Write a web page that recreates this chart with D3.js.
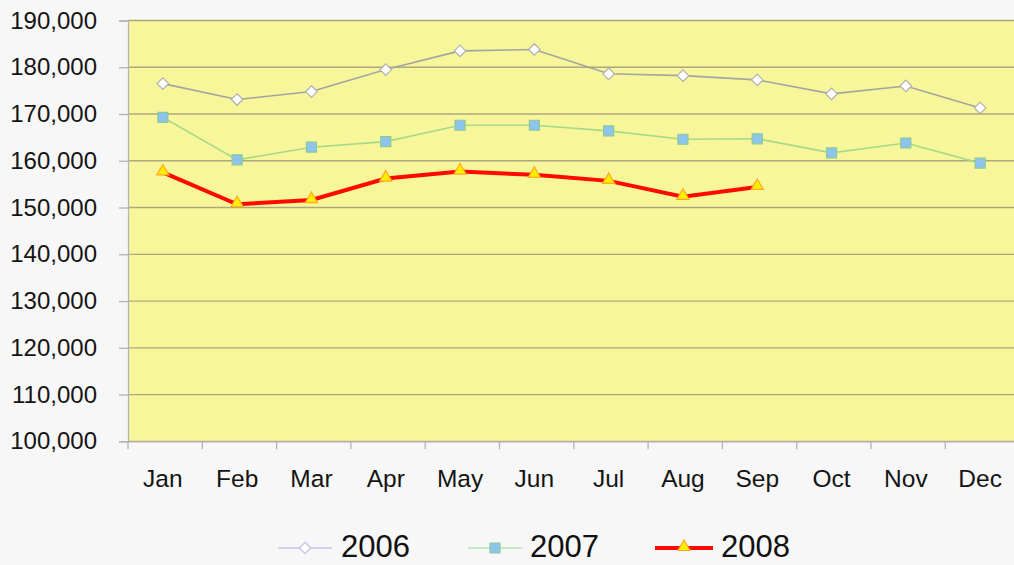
<!DOCTYPE html>
<html>
<head>
<meta charset="utf-8">
<script src="https://cdn.jsdelivr.net/npm/d3@7"></script>
<style>
  html, body { margin: 0; padding: 0; background: #f7f7f7; }
  svg { display: block; font-family: "Liberation Sans", Arial, sans-serif; }
</style>
</head>
<body>
<svg id="chart" width="1014" height="565"></svg>
<script>
const months = ["Jan","Feb","Mar","Apr","May","Jun","Jul","Aug","Sep","Oct","Nov","Dec"];
const yTicks = [100000,110000,120000,130000,140000,150000,160000,170000,180000,190000];
const values2006 = [176500,173100,174800,179500,183500,183800,178600,178200,177300,174300,176000,171300];
const values2007 = [169300,160200,162900,164100,167600,167600,166400,164600,164700,161700,163800,159500];
const values2008 = [157500,150700,151600,156200,157700,157000,155700,152300,154400];
const seriesNames = ["2006","2007","2008"];

const svg = d3.select("#chart");
const pLeft = 128, pTop = 20.5, pBottom = 441.3, pRight = 128 + 12 * 74.3;

const x = d3.scaleBand().domain(months).range([pLeft, pRight]).padding(0);
const y = d3.scaleLinear().domain([100000, 190000]).range([pBottom, pTop]);
const px = m => x(m) + x.bandwidth() / 2 - 2.3;

// plot background
svg.append("rect")
  .attr("x", pLeft).attr("y", pTop)
  .attr("width", pRight - pLeft).attr("height", pBottom - pTop)
  .attr("fill", "#f8f69a");

// gridlines
svg.append("g").selectAll("line").data(yTicks).join("line")
  .attr("x1", pLeft).attr("x2", pRight)
  .attr("y1", d => y(d)).attr("y2", d => y(d))
  .attr("stroke", "#aca87c").attr("stroke-width", 1.3);

// y axis
const yAxis = d3.axisLeft(y).tickValues(yTicks).tickSize(9).tickPadding(22)
  .tickFormat(d3.format(","));
const gy = svg.append("g").attr("transform", `translate(${pLeft},0)`).call(yAxis);
gy.select(".domain").attr("stroke", "#b4b4b4").attr("stroke-width", 1.3);
gy.selectAll(".tick line").attr("stroke", "#b4b4b4").attr("stroke-width", 1.3);
gy.selectAll(".tick text").attr("font-size", 24).attr("fill", "#141414")
  .attr("font-family", "Liberation Sans, Arial, sans-serif");

// x axis
const xAxis = d3.axisBottom(x).tickSize(0).tickPadding(0);
const gx = svg.append("g").attr("transform", `translate(0,${pBottom})`).call(xAxis);
gx.select(".domain").attr("stroke", "#b4b4b4").attr("stroke-width", 1.3);
gx.selectAll(".tick text").attr("font-size", 24.5).attr("fill", "#141414")
  .attr("font-family", "Liberation Sans, Arial, sans-serif")
  .attr("dy", null).attr("y", 46)
  .attr("x", -2.3);
// tick marks at band boundaries
svg.append("g").selectAll("line").data(months).join("line")
  .attr("x1", d => x(d)).attr("x2", d => x(d))
  .attr("y1", pBottom).attr("y2", pBottom + 8)
  .attr("stroke", "#b4b4b4").attr("stroke-width", 1.3);

// lines
const line = d3.line().x((d, i) => px(months[i])).y(d => y(d));

const plot = svg.append("g");
plot.append("path").datum(values2006).attr("d", line)
  .attr("fill", "none").attr("stroke", "#a4a4a0").attr("stroke-width", 1.6);
plot.append("path").datum(values2007).attr("d", line)
  .attr("fill", "none").attr("stroke", "#a6da86").attr("stroke-width", 1.6);
plot.append("path").datum(values2008).attr("d", line)
  .attr("fill", "none").attr("stroke", "#ff0a00").attr("stroke-width", 4);

const diamond = d3.symbol().type(d3.symbolDiamond2).size(85);
const square = d3.symbol().type(d3.symbolSquare).size(100);
const triangle = d3.symbol().type(d3.symbolTriangle).size(64);

plot.append("g").selectAll("path").data(values2006).join("path")
  .attr("transform", (d, i) => `translate(${px(months[i])},${y(d)})`)
  .attr("d", diamond()).attr("fill", "#ffffff").attr("stroke", "#b0b0b0").attr("stroke-width", 1.2);
plot.append("g").selectAll("path").data(values2007).join("path")
  .attr("transform", (d, i) => `translate(${px(months[i])},${y(d)})`)
  .attr("d", square()).attr("fill", "#8cc4ee").attr("stroke", "#8cc89a").attr("stroke-width", 1.2);
plot.append("g").selectAll("path").data(values2008).join("path")
  .attr("transform", (d, i) => `translate(${px(months[i])},${y(d) - 1})`)
  .attr("d", triangle()).attr("fill", "#ffee00").attr("stroke", "#ffa826").attr("stroke-width", 1.2);

// legend
const legendY = 548;
const legendItems = [
  { name: seriesNames[0], x1: 278, x2: 332, tx: 341, stroke: "#c6c6ea", sw: 1.6, sym: diamond, fill: "#ffffff", mstroke: "#c0c0e6" },
  { name: seriesNames[1], x1: 468, x2: 522, tx: 530, stroke: "#b8e2b4", sw: 1.6, sym: square, fill: "#8cc4ee", mstroke: "#8cc89a" },
  { name: seriesNames[2], x1: 655, x2: 713, tx: 721, stroke: "#ff0a00", sw: 4, sym: triangle, fill: "#ffee00", mstroke: "#ffa826" }
];
const lg = svg.append("g").selectAll("g").data(legendItems).join("g");
lg.append("line")
  .attr("x1", d => d.x1).attr("x2", d => d.x2)
  .attr("y1", legendY).attr("y2", legendY)
  .attr("stroke", d => d.stroke).attr("stroke-width", d => d.sw);
lg.append("path")
  .attr("transform", d => `translate(${(d.x1 + d.x2) / 2},${legendY - (d.name === "2008" ? 1 : 0)})`)
  .attr("d", d => d.sym()).attr("fill", d => d.fill).attr("stroke", d => d.mstroke).attr("stroke-width", 1.2);
lg.append("text")
  .attr("x", d => d.tx).attr("y", 557)
  .attr("font-size", 31).attr("fill", "#111")
  .text(d => d.name);
</script>
</body>
</html>
